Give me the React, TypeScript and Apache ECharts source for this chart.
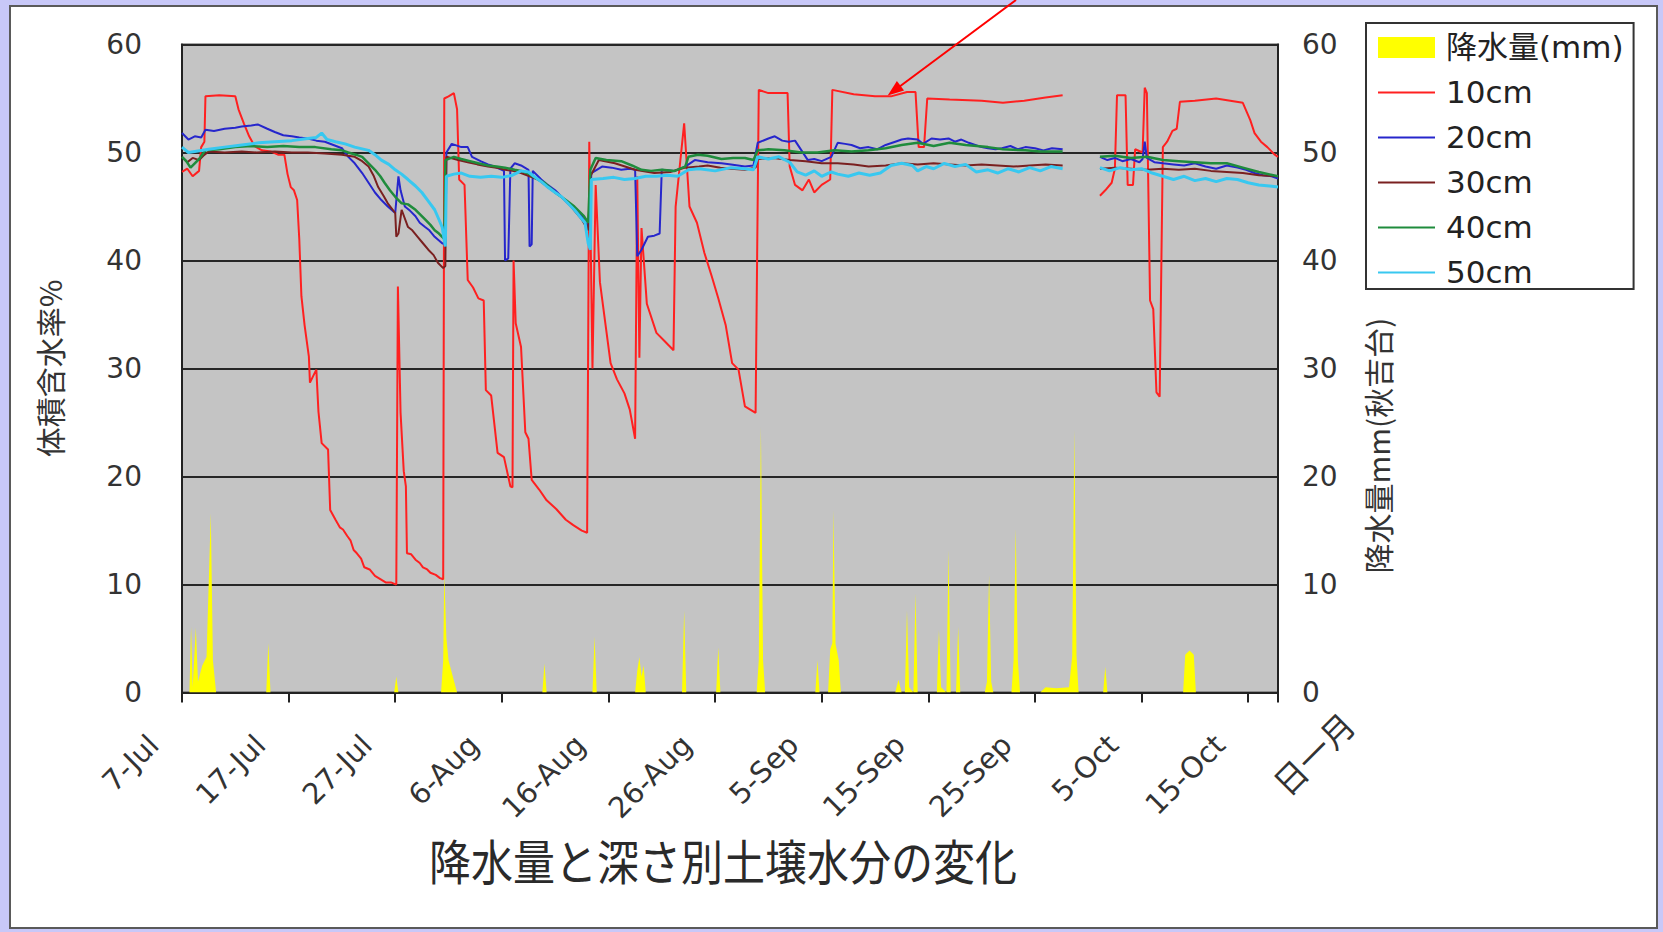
import React, { useEffect, useRef } from 'react';
import * as echarts from 'echarts';

// ---------- data (x = days since 7-Jul) ----------
const X_LABELS = ['7-Jul', '17-Jul', '27-Jul', '6-Aug', '16-Aug', '26-Aug', '5-Sep', '15-Sep', '25-Sep', '5-Oct', '15-Oct'];
const X_END_LABEL = '日一月';
const X_MAX = 102.8;
const TITLE = '降水量と深さ別土壌水分の変化';
const Y_LEFT_NAME = '体積含水率%';
const Y_RIGHT_NAME = '降水量mm(秋吉台)';
const Y_TICKS_MAX = 60;

const GAP: [number, string] = [84.3, '-'];

const S10: any[] = [
  [0, 48.2], [0.5, 48.5], [1.0, 47.8], [1.6, 48.3], [1.8, 50.5], [2.1, 51], [2.2, 55.2], [3.5, 55.3], [5.0, 55.2],
  [5.3, 54], [5.8, 52.7], [6.3, 51.5], [6.8, 50.6], [7.5, 50.2], [8.3, 50.1], [9.0, 49.8], [9.6, 49.8], [9.9, 48],
  [10.2, 46.8], [10.5, 46.5], [10.8, 45.6], [11.0, 42], [11.2, 36.7], [11.5, 34], [11.9, 31.1], [12.0, 28.7],
  [12.6, 29.9], [12.8, 26], [13.1, 23.1], [13.7, 22.5], [13.9, 16.9], [14.4, 16], [14.8, 15.3], [15.1, 15.1],
  [15.5, 14.5], [15.8, 14.1], [16.1, 13.2], [16.4, 12.9], [16.8, 12.4], [17.1, 11.6], [17.6, 11.4], [18.1, 10.8],
  [18.6, 10.5], [19.1, 10.2], [19.6, 10.2], [20.1, 10.0], [20.25, 37.6], [20.5, 25.9], [20.8, 20.5], [21.0, 19.1],
  [21.1, 12.9], [21.5, 12.8], [21.9, 12.3], [22.3, 12.0], [22.6, 11.6], [23.0, 11.4], [23.3, 11.1], [23.8, 10.9],
  [24.2, 10.6], [24.5, 10.5], [24.6, 55], [25.0, 55.2], [25.5, 55.5], [25.8, 54], [26.0, 47.5], [26.5, 47],
  [26.8, 38.2], [27.3, 37.5], [27.8, 36.5], [28.3, 36.3], [28.5, 28], [29.0, 27.5], [29.6, 22.2], [30.2, 21.8],
  [30.8, 19.1], [31.0, 19], [31.1, 40], [31.3, 34.2], [31.8, 32], [32.2, 24.1], [32.5, 23.5], [32.8, 19.7],
  [33.5, 18.8], [34.2, 17.8], [35.1, 17], [36.0, 16], [36.7, 15.5], [37.5, 15], [38.0, 14.8], [38.2, 51],
  [38.5, 30], [38.8, 47], [39.2, 38], [39.6, 35], [40.2, 30.5], [40.8, 29], [41.5, 27.7], [42.0, 26.2],
  [42.5, 23.5], [42.7, 47.8], [42.9, 31], [43.1, 43], [43.6, 36], [44.5, 33.3], [45.3, 32.5], [46.1, 31.7],
  [46.3, 45], [47.1, 52.7], [47.6, 45], [48.3, 43.5], [49.0, 40.7], [49.7, 38.5], [50.3, 36.5], [51.0, 34],
  [51.6, 30.5], [52.2, 29.9], [52.8, 26.5], [53.8, 25.9], [54.1, 55.8], [55, 55.5], [56.8, 55.5], [57.0, 48.7],
  [57.5, 47], [58.2, 46.5], [58.8, 47.5], [59.3, 46.3], [60, 47], [60.8, 47.5], [61.0, 55.8], [63, 55.4],
  [65, 55.2], [66.5, 55.2], [68, 55.6], [68.8, 55.6], [69.1, 50.5], [69.6, 50.5], [69.9, 55], [72, 54.9],
  [75, 54.8], [77, 54.6], [79, 54.8], [81, 55.1], [82.6, 55.3],
  GAP,
  [86.1, 46.0], [86.6, 46.5], [87.2, 47.2], [87.5, 48.5], [87.7, 55.3], [88.5, 55.3], [88.7, 47.0], [89.2, 47.0],
  [89.4, 50.3], [90.1, 50], [90.3, 56], [90.5, 55.5], [90.8, 36.3], [91.1, 35.5], [91.4, 27.8], [91.7, 27.4],
  [92.0, 50.5], [92.4, 51], [92.9, 52], [93.3, 52.2], [93.6, 54.7], [95.0, 54.8], [97, 55], [99.5, 54.6],
  [100.2, 53], [100.6, 51.8], [101.2, 51], [101.8, 50.5], [102.5, 49.8], [102.8, 49.6],
];

const S20: any[] = [
  [0, 51.8], [0.6, 51.2], [1.2, 51.5], [1.8, 51.4], [2.2, 52.1], [3.0, 52], [4.0, 52.2], [5.0, 52.3], [5.6, 52.4],
  [6.5, 52.5], [7.1, 52.6], [8.0, 52.2], [8.7, 51.9], [9.5, 51.6], [10.3, 51.5], [11.0, 51.4], [11.8, 51.3],
  [12.6, 51.1], [13.4, 51], [14.2, 50.7], [15.0, 50.4], [15.6, 49.6], [16.2, 49], [16.9, 48.1], [17.5, 47.2],
  [18.1, 46.3], [18.7, 45.6], [19.3, 45], [20.0, 44.4], [20.3, 47.8], [20.5, 46.5], [20.9, 45], [21.4, 44.6],
  [21.9, 44.1], [22.3, 43.5], [22.8, 43.1], [23.2, 42.8], [23.7, 42.2], [24.4, 41.6], [24.7, 41.5], [24.8, 50],
  [25.3, 50.8], [26.2, 50.5], [26.8, 50.5], [27.2, 49.6], [28.0, 49.2], [28.7, 48.9], [29.3, 48.7], [30.0, 48.4],
  [30.2, 48.3], [30.3, 40], [30.6, 40.2], [30.8, 48.5], [31.2, 49], [31.8, 48.8], [32.5, 48.4], [32.6, 41.3],
  [32.8, 41.5], [32.9, 48.3], [33.7, 47.5], [34.3, 47], [35.0, 46.5], [35.6, 45.9], [36.2, 45.3], [36.8, 44.8],
  [37.5, 44.1], [38.1, 43.1], [38.4, 48.1], [39.4, 48.7], [40.3, 48.6], [41.2, 48.4], [42.0, 48.5], [42.5, 48.4],
  [42.7, 40.4], [43.1, 41], [43.7, 42.2], [44.3, 42.3], [44.8, 42.5], [45.0, 48.4], [46.2, 48.3], [47.2, 48.7],
  [48.1, 49.3], [49.3, 49.1], [50.6, 49], [51.5, 48.9], [52.8, 48.7], [53.6, 48.8], [54.0, 50.9], [55.0, 51.3],
  [55.6, 51.5], [56.3, 51.1], [56.9, 51], [57.5, 51.1], [58.1, 50.2], [58.7, 49.3], [59.3, 49.4], [60.0, 49.2],
  [60.9, 49.6], [61.5, 50.9], [62.2, 50.8], [62.8, 50.7], [63.6, 50.4], [64.4, 50.5], [65.2, 50.3], [66.0, 50.7],
  [66.9, 51], [67.5, 51.2], [68.1, 51.3], [69.0, 51.2], [69.5, 50.8], [70.3, 51.3], [71.1, 51.2], [71.9, 51.3],
  [72.5, 51], [73.1, 51.2], [73.8, 50.9], [74.4, 50.7], [75.0, 50.5], [75.6, 50.4], [76.3, 50.3], [76.9, 50.4],
  [77.7, 50.6], [78.4, 50.3], [79.1, 50.5], [80.0, 50.4], [80.8, 50.2], [81.6, 50.4], [82.6, 50.3],
  GAP,
  [86.1, 49.6], [86.8, 49.3], [87.5, 49.5], [88.2, 49.2], [89.0, 49.4], [89.8, 49.1], [90.1, 49.4], [90.3, 51],
  [90.5, 49.5], [91.2, 49.1], [92.0, 49], [93.0, 48.9], [94.0, 48.8], [95.0, 49], [96.0, 48.7], [97.0, 48.5],
  [98.0, 48.8], [99.0, 48.6], [99.8, 48.4], [100.6, 48.1], [101.4, 47.9], [102.2, 47.8], [102.8, 47.6],
];

const S30: any[] = [
  [0, 49.6], [0.5, 49.1], [1.0, 49.5], [1.6, 49.3], [2.0, 49.7], [2.5, 50.1], [4.0, 50.0], [5.6, 50.1], [7.0, 50.0],
  [8.7, 50.1], [10.3, 50.0], [11.8, 50], [13.4, 49.9], [15.0, 49.8], [16.2, 49.6], [16.9, 49.2], [17.5, 48.7],
  [18.0, 47.8], [18.4, 46.8], [18.9, 46], [19.3, 45.3], [20.0, 44.4], [20.1, 42.2], [20.3, 42.5], [20.6, 44.7],
  [21.2, 43.1], [21.6, 42.8], [22.1, 42.2], [22.6, 41.6], [23.1, 41], [23.6, 40.5], [24.0, 39.8], [24.5, 39.3],
  [24.7, 39.5], [24.8, 49.6], [25.9, 49.3], [26.8, 49.1], [27.7, 48.9], [28.7, 48.7], [29.5, 48.6], [30.3, 48.4],
  [31.0, 48.3], [31.8, 48.1], [32.6, 47.8], [33.4, 47.5], [34.3, 46.8], [35.0, 46.3], [35.6, 45.9], [36.5, 45],
  [37.0, 44.4], [37.5, 43.8], [38.1, 42.8], [38.3, 47.8], [39.1, 49.3], [40.6, 49], [42.5, 48.4], [44.3, 48.1],
  [45.8, 48.2], [47.2, 48.6], [48.5, 48.7], [49.3, 48.8], [50.5, 48.6], [51.5, 48.5], [52.8, 48.4], [53.8, 48.6],
  [54.0, 49.4], [55.5, 49.5], [57.0, 49.3], [58.5, 49.2], [60.0, 49.0], [61.5, 49.0], [63.0, 48.9], [64.4, 48.7],
  [66.0, 48.8], [67.5, 49.0], [69.0, 48.9], [70.5, 49.0], [72.0, 48.9], [73.5, 48.8], [75.0, 48.9], [76.5, 48.8],
  [78.0, 48.7], [79.5, 48.8], [81.0, 48.9], [82.6, 48.8],
  GAP,
  [86.1, 48.5], [87.5, 48.6], [89.0, 48.5], [90.5, 48.4], [92.0, 48.5], [93.5, 48.4], [95.0, 48.5], [96.5, 48.3],
  [98.0, 48.2], [99.5, 48.1], [101.0, 47.9], [102.8, 47.8],
];

const S40: any[] = [
  [0, 49.6], [0.4, 49.2], [0.8, 48.6], [1.2, 49.0], [1.6, 49.4], [2.2, 50.2], [3.5, 50.3], [5.0, 50.5], [6.5, 50.6],
  [8.0, 50.5], [9.5, 50.6], [11.0, 50.5], [12.5, 50.5], [14.0, 50.3], [15.0, 50.2], [15.6, 50.0], [16.3, 49.8],
  [16.9, 49.6], [17.5, 49.0], [18.1, 48.4], [18.6, 47.8], [19.0, 47.2], [19.5, 46.5], [20.0, 45.9], [20.6, 45.3],
  [21.2, 45.2], [21.9, 44.7], [22.4, 44.2], [22.8, 43.8], [23.3, 43.3], [23.7, 42.8], [24.1, 42.5], [24.4, 42.2],
  [24.6, 42.0], [24.7, 49.3], [25.5, 49.6], [26.2, 49.4], [27.0, 49.2], [27.8, 49.0], [28.7, 48.8], [29.5, 48.7],
  [30.3, 48.6], [31.2, 48.4], [31.8, 48.3], [32.6, 48.0], [33.2, 47.6], [34.0, 47.2], [35.0, 46.3], [36.0, 45.6],
  [36.8, 45.0], [37.7, 44.1], [38.1, 43.5], [38.3, 48.4], [38.8, 49.5], [39.8, 49.3], [41.2, 49.2], [42.2, 48.8],
  [43.1, 48.4], [44.0, 48.3], [45.0, 48.4], [46.2, 48.3], [47.2, 48.7], [47.5, 49.6], [48.4, 49.8], [49.3, 49.7],
  [50.6, 49.4], [51.7, 49.5], [52.8, 49.5], [53.6, 49.3], [54.0, 50.2], [55.0, 50.3], [56.5, 50.2], [58.1, 50.0],
  [59.6, 50.0], [61.2, 50.2], [62.8, 50.1], [64.4, 50.2], [66.0, 50.4], [67.5, 50.7], [69.0, 50.9], [70.5, 50.6],
  [72.0, 50.9], [73.5, 50.7], [75.6, 50.5], [77.0, 50.3], [79.1, 50.2], [80.5, 50.1], [82.6, 50.1],
  GAP,
  [86.1, 49.6], [87.5, 49.7], [89.0, 49.5], [90.5, 49.6], [92.0, 49.3], [93.5, 49.2], [95.0, 49.1], [96.5, 49.0],
  [98.0, 49.0], [99.5, 48.6], [101.0, 48.2], [102.8, 47.8],
];

const S50: any[] = [
  [0, 50.5], [0.6, 50.0], [1.2, 50.1], [2.5, 50.3], [4.0, 50.5], [5.6, 50.7], [7.2, 50.9], [8.7, 51], [10.3, 51.1],
  [11.8, 51.3], [12.6, 51.4], [13.1, 51.8], [13.6, 51.2], [14.4, 51], [15.3, 50.8], [16.2, 50.5], [17.5, 50.2],
  [18.1, 49.8], [18.7, 49.3], [19.4, 48.9], [20.0, 48.4], [20.6, 48.0], [21.2, 47.5], [21.9, 46.9], [22.5, 46.3],
  [23.1, 45.5], [23.7, 44.7], [24.1, 43.8], [24.4, 43.1], [24.7, 41.3], [24.8, 47.8], [25.5, 48.0], [26.2, 48.1],
  [27.0, 47.8], [28.0, 47.7], [29.0, 47.8], [30.0, 47.7], [31.0, 47.9], [31.8, 48.3], [32.5, 48.2], [33.0, 47.8],
  [33.7, 47.3], [34.3, 46.8], [35.0, 46.3], [35.6, 45.9], [36.2, 45.3], [36.8, 44.7], [37.3, 44.1], [37.8, 43.5],
  [38.1, 41.6], [38.3, 41.0], [38.4, 47.5], [39.5, 47.6], [40.5, 47.7], [41.5, 47.5], [42.5, 47.6], [43.5, 47.8],
  [44.5, 47.8], [45.5, 47.9], [46.5, 47.8], [47.5, 48.4], [48.5, 48.5], [50.0, 48.3], [51.5, 48.6], [52.8, 48.5],
  [53.6, 48.4], [54.0, 49.6], [55.0, 49.4], [56.0, 49.6], [57.0, 49.1], [57.7, 48.2], [58.5, 47.9], [59.3, 48.3],
  [60.0, 47.8], [60.9, 48.2], [61.5, 48.0], [62.5, 47.8], [63.5, 48.1], [64.5, 47.9], [65.5, 48.1], [66.5, 48.8],
  [67.5, 49.0], [68.5, 48.8], [69.0, 48.3], [69.8, 48.7], [70.5, 48.5], [71.5, 49.0], [72.5, 48.7], [73.5, 48.9],
  [74.5, 48.2], [75.6, 48.4], [76.5, 48.1], [77.5, 48.5], [78.5, 48.2], [79.5, 48.6], [80.5, 48.3], [81.5, 48.7],
  [82.6, 48.5],
  GAP,
  [86.1, 48.6], [87.0, 48.3], [88.0, 48.6], [89.0, 48.4], [90.0, 48.5], [91.0, 48.1], [92.0, 47.8], [93.0, 47.5],
  [94.0, 47.8], [95.0, 47.4], [96.0, 47.6], [97.0, 47.3], [98.0, 47.6], [99.0, 47.5], [100.0, 47.2], [101.0, 47.0],
  [102.0, 46.9], [102.8, 46.8],
];

// rainfall (mm), right axis
const RAIN: any[] = [
  [0, 0], [0.7, 0], [0.85, 6.1], [1.0, 0.5], [1.3, 6], [1.5, 1], [1.9, 2.5], [2.3, 3.3], [2.7, 16.6], [2.9, 3], [3.2, 0],
  [7.9, 0], [8.1, 4.6], [8.3, 0],
  [19.9, 0], [20.1, 1.5], [20.3, 0],
  [24.3, 0], [24.5, 3], [24.6, 11.1], [24.8, 5], [25.0, 3], [25.4, 1.5], [25.8, 0],
  [33.8, 0], [34.0, 2.7], [34.2, 0],
  [38.5, 0], [38.7, 5.2], [38.9, 0],
  [42.5, 0], [42.7, 2], [42.9, 3.3], [43.1, 1.5], [43.3, 2.5], [43.5, 0],
  [46.9, 0], [47.1, 7.6], [47.3, 0],
  [50.1, 0], [50.3, 4.2], [50.5, 0],
  [53.9, 0], [54.1, 3], [54.3, 24.6], [54.5, 3], [54.7, 0],
  [59.4, 0], [59.6, 3], [59.8, 0], [60.6, 0], [60.8, 4], [61.0, 4.6], [61.1, 16.9], [61.3, 4.5], [61.6, 3], [61.8, 0],
  [66.9, 0], [67.2, 1.2], [67.5, 0], [67.8, 0], [68.0, 7.6], [68.2, 0.5], [68.6, 0], [68.8, 9.2], [69.0, 0],
  [70.8, 0], [71.0, 5.8], [71.2, 0.5], [71.7, 0], [71.9, 13.2], [72.1, 0], [72.6, 0], [72.8, 6.1], [73.0, 0],
  [75.3, 0], [75.5, 1], [75.7, 10.9], [75.9, 1], [76.1, 0],
  [77.8, 0], [78.0, 3], [78.2, 15.2], [78.4, 3], [78.6, 0],
  [80.5, 0], [81, 0.5], [82, 0.4], [83.2, 0.5], [83.5, 3.4], [83.7, 24.3], [83.9, 3.4], [84.1, 0],
  [86.4, 0], [86.6, 2.4], [86.8, 0],
  [93.9, 0], [94.1, 3.5], [94.5, 3.9], [94.9, 3.5], [95.1, 0],
  [102.8, 0],
];

const FONT_NUM = "'DejaVu Sans', 'Noto Sans CJK JP', sans-serif";
const FONT_JP = "'Noto Sans CJK JP', 'DejaVu Sans', sans-serif";

function xLabel(v: number): string {
  const i = Math.round(v / 10);
  if (Math.abs(v - i * 10) < 1e-6 && i >= 0 && i < X_LABELS.length) return X_LABELS[i];
  return '';
}

function lineSeries(name: string, data: any[], color: string, width: number) {
  return {
    name,
    type: 'line',
    yAxisIndex: 0,
    data,
    symbol: 'none',
    showSymbol: false,
    connectNulls: false,
    lineStyle: { color, width },
    itemStyle: { color },
    silent: true,
  };
}

export default function App() {
  const ref = useRef<HTMLDivElement>(null);

  useEffect(() => {
    if (!ref.current) return;
    const chart = echarts.init(ref.current, null, { renderer: 'svg' });
    const yAxisBase = {
      type: 'value',
      min: 0,
      max: Y_TICKS_MAX,
      interval: 10,
      axisLine: { show: true, lineStyle: { color: '#222', width: 2 } },
      axisTick: { show: false },
    };
    const option: any = {
      animation: false,
      backgroundColor: 'transparent',
      grid: {
        left: 182,
        right: 385,
        top: 44.5,
        bottom: 239.4,
        show: true,
        backgroundColor: '#c4c4c4',
        borderColor: '#555',
        borderWidth: 2,
      },
      legend: {
        orient: 'vertical',
        left: 1366,
        top: 23,
        backgroundColor: '#ffffff',
        borderColor: '#333',
        borderWidth: 2,
        padding: [9, 10, 1, 11],
        itemWidth: 57,
        itemHeight: 21,
        itemGap: 14,
        itemStyle: { opacity: 0 },
        textStyle: { fontFamily: FONT_NUM, fontSize: 31, color: '#222', padding: [0, 0, 0, 6] },
        data: [
          { name: '降水量(mm)', icon: 'rect', itemStyle: { opacity: 1 } },
          '10cm', '20cm', '30cm', '40cm', '50cm',
        ],
      },
      xAxis: {
        type: 'value',
        min: 0,
        max: X_MAX,
        interval: 10,
        axisLine: { show: true, onZero: false, lineStyle: { color: '#222', width: 2 } },
        axisTick: { show: true, length: 10, lineStyle: { color: '#222', width: 2 } },
        axisLabel: {
          rotate: 45,
          margin: 19,
          padding: [0, 40, 0, 0],
          fontFamily: FONT_NUM,
          fontSize: 29,
          color: '#333',
          formatter: xLabel,
        },
        splitLine: { show: false },
      },
      yAxis: [
        {
          ...yAxisBase,
          position: 'left',
          axisLabel: { margin: 40, fontFamily: FONT_NUM, fontSize: 28, color: '#333' },
          splitLine: { show: true, lineStyle: { color: '#262626', width: 2 } },
          name: Y_LEFT_NAME,
          nameLocation: 'middle',
          nameRotate: 90,
          nameGap: 118,
          nameTextStyle: { fontFamily: FONT_JP, fontSize: 30, color: '#333' },
        },
        {
          ...yAxisBase,
          position: 'right',
          axisLabel: { margin: 24, fontFamily: FONT_NUM, fontSize: 28, color: '#333' },
          splitLine: { show: false },
          name: Y_RIGHT_NAME,
          nameLocation: 'middle',
          nameRotate: 90,
          nameGap: 84,
          nameTextStyle: { fontFamily: FONT_JP, fontSize: 30, color: '#333', padding: [0, 154, 0, 0] },
        },
      ],
      graphic: [
        {
          type: 'text',
          x: 723,
          y: 859,
          scaleY: 1.15,
          style: { text: TITLE, fontFamily: FONT_JP, fontSize: 42, fill: '#2a2a2a', align: 'center', verticalAlign: 'middle' },
        },
        {
          type: 'text',
          x: 1313,
          y: 753,
          rotation: Math.PI / 4,
          style: { text: X_END_LABEL, fontFamily: FONT_JP, fontSize: 33, fill: '#333', align: 'center', verticalAlign: 'middle' },
        },
        {
          type: 'line',
          shape: { x1: 1016, y1: 0, x2: 897, y2: 88.5 },
          style: { stroke: '#ff0000', lineWidth: 2 },
          z: 100,
        },
        {
          type: 'polygon',
          shape: { points: [[887.7, 95.5], [904.1, 90.6], [896.9, 81]] },
          style: { fill: '#ff0000' },
          z: 100,
        },
      ],
      series: [
        lineSeries('10cm', S10, '#ff2020', 2),
        lineSeries('20cm', S20, '#2626cc', 2),
        lineSeries('30cm', S30, '#7a2020', 2),
        lineSeries('40cm', S40, '#1f8c3c', 2.5),
        lineSeries('50cm', S50, '#38c8f0', 3),
        {
          name: '降水量(mm)',
          type: 'line',
          yAxisIndex: 1,
          data: RAIN,
          symbol: 'none',
          showSymbol: false,
          lineStyle: { color: '#ffff00', width: 0 },
          areaStyle: { color: '#ffff00', opacity: 1 },
          itemStyle: { color: '#ffff00' },
          silent: true,
        },
      ],
    };
    chart.setOption(option);
    return () => chart.dispose();
  }, []);

  return (
    <div style={{ position: 'fixed', left: 0, top: 0, width: 1663, height: 932, background: '#c8c8f8', overflow: 'hidden' }}>
      <div
        style={{
          position: 'absolute',
          left: 9,
          top: 5,
          width: 1649,
          height: 924,
          background: '#ffffff',
          border: '2px solid #5a5a5a',
          boxSizing: 'border-box',
        }}
      />
      <div ref={ref} style={{ position: 'absolute', left: 0, top: 0, width: 1663, height: 932 }} />
    </div>
  );
}
